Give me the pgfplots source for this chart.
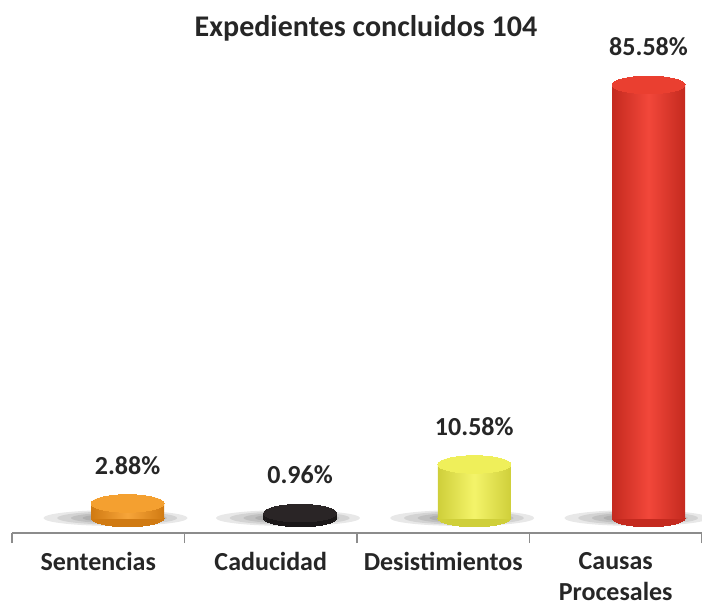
\documentclass[border=0pt]{standalone}
\usepackage{fontspec}
\setmainfont{Carlito}
\usepackage{pgfplots}
\pgfplotsset{compat=1.18}
\definecolor{cOrange}{HTML}{F7A53A}
\definecolor{cOrangeD}{HTML}{D07A12}
\definecolor{cOrangeT}{HTML}{F4A030}
\definecolor{cBlack}{HTML}{2A2526}
\definecolor{cBlackD}{HTML}{1A1718}
\definecolor{cYellow}{HTML}{F4F46A}
\definecolor{cYellowD}{HTML}{CFCF3A}
\definecolor{cYellowT}{HTML}{EFEF5A}
\definecolor{cRed}{HTML}{F2473A}
\definecolor{cRedD}{HTML}{C42A1F}
\definecolor{cRedT}{HTML}{EA3F30}
\definecolor{axisgray}{HTML}{8C8C8C}
\pgfplotsset{
  cyl/.style n args={3}{ybar, draw=none, bar shift=0pt, bar width=36.5pt,
    left color=#2, right color=#2, middle color=#1,
    nodes near coords={\pgfmathprintnumber[fixed,fixed zerofill,precision=2]{\pgfplotspointmeta}\%},
    every node near coord/.append style={font=\fontsize{13}{15}\selectfont\bfseries, text=black!85, yshift=11pt}},
  cap/.style={only marks, mark=*, mark size=18.25pt, color=#1, mark options={yscale=0.24, draw=#1, fill=#1, line width=0pt}},
  shadow/.style={only marks, mark=*, mark size=#1, color=black, mark options={yscale=0.11, draw=none, fill=black, line width=0pt, fill opacity=0.09, draw opacity=0}},
}
\begin{document}
\begin{tikzpicture}
\useasboundingbox (0,0) rectangle (351pt,303pt);
\begin{axis}[
  at={(6pt,36.5pt)}, anchor=south west,
  scale only axis, width=345pt, height=236.5pt,
  xmin=0, xmax=4, ymin=-2.96, ymax=90.5,
  clip=false, clip mode=individual,
  axis x line=bottom, axis y line=none,
  axis line style={-, axisgray, line width=0.6pt},
  xtick={0,1,2,3,4}, xticklabels={},
  tick align=outside, major tick length=5pt,
  tick style={axisgray, line width=0.6pt},
  extra x ticks={0.5,1.5,2.5,3.5},
  extra x tick labels={Sentencias,Caducidad,Desistimientos,{Causas\\Procesales}},
  extra x tick style={major tick length=0pt,
    tick label style={font=\fontsize{13}{15.5}\selectfont\bfseries, text=black!85, align=center, anchor=north, yshift=-6pt}},
  /pgf/number format/assume math mode=true,
]
% soft shadows
\addplot[shadow=36pt] coordinates {(0.60,0) (1.60,0) (2.61,0) (3.62,0)};
\addplot[shadow=30pt] coordinates {(0.61,0) (1.61,0) (2.62,0) (3.63,0)};
\addplot[shadow=24pt] coordinates {(0.62,0) (1.62,0) (2.63,0) (3.64,0)};
\addplot[shadow=19pt] coordinates {(0.63,0) (1.63,0) (2.64,0) (3.65,0)};
% bottom ellipses
\addplot[cap=cOrangeD] coordinates {(0.67,0)};
\addplot[cap=cBlackD] coordinates {(1.67,0)};
\addplot[cap=cYellowD] coordinates {(2.68,0)};
\addplot[cap=cRedD] coordinates {(3.69,0)};
% bars
\addplot[cyl={cOrange}{cOrangeD}{}] coordinates {(0.67,2.88)};
\addplot[cyl={cBlack}{cBlackD}{}] coordinates {(1.67,0.96)};
\addplot[cyl={cYellow}{cYellowD}{}] coordinates {(2.68,10.58)};
\addplot[cyl={cRed}{cRedD}{}] coordinates {(3.69,85.58)};
% top ellipses
\addplot[cap=cOrangeT] coordinates {(0.67,2.88)};
\addplot[cap=cBlack] coordinates {(1.67,0.96)};
\addplot[cap=cYellowT] coordinates {(2.68,10.58)};
\addplot[cap=cRedT] coordinates {(3.69,85.58)};
\end{axis}
\node[font=\fontsize{15}{17}\selectfont\bfseries, text=black!85] at (183pt,289pt) {Expedientes concluidos 104};
\end{tikzpicture}
\end{document}
